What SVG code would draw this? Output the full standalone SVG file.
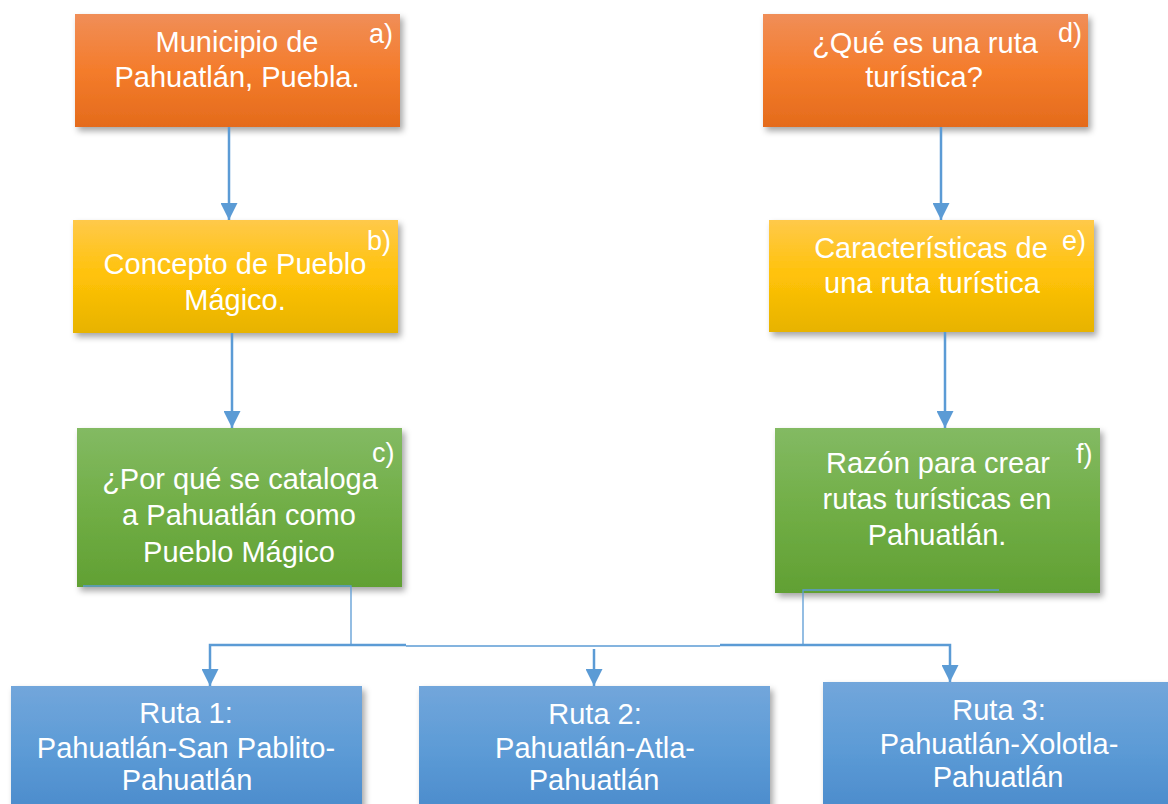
<svg xmlns="http://www.w3.org/2000/svg" width="1168" height="804" viewBox="0 0 1168 804">
<defs>
<linearGradient id="gO" x1="0" y1="0" x2="0" y2="1"><stop offset="0" stop-color="#F08E58"/><stop offset="0.5" stop-color="#F47C2B"/><stop offset="1" stop-color="#E46B1C"/></linearGradient>
<linearGradient id="gY" x1="0" y1="0" x2="0" y2="1"><stop offset="0" stop-color="#FFC94A"/><stop offset="0.5" stop-color="#FFC208"/><stop offset="1" stop-color="#E7B300"/></linearGradient>
<linearGradient id="gG" x1="0" y1="0" x2="0" y2="1"><stop offset="0" stop-color="#83BA63"/><stop offset="0.5" stop-color="#71AE46"/><stop offset="1" stop-color="#61A033"/></linearGradient>
<linearGradient id="gB" x1="0" y1="0" x2="0" y2="1"><stop offset="0" stop-color="#72A6DB"/><stop offset="0.5" stop-color="#5C9BD6"/><stop offset="1" stop-color="#4A8ACB"/></linearGradient>
<filter id="sh" x="-10%" y="-10%" width="125%" height="130%"><feDropShadow dx="3" dy="4" stdDeviation="3" flood-color="#000" flood-opacity="0.35"/></filter>
<marker id="ah" markerUnits="userSpaceOnUse" markerWidth="17" markerHeight="17" refX="17" refY="8.5" orient="auto"><path d="M0,0 L17,8.5 L0,17 z" fill="#5B9BD5"/></marker>
<style>
.box{filter:url(#sh)}
.t{font-family:"Liberation Sans",Arial,sans-serif;font-size:29px;fill:#fff;text-anchor:middle}
.l{font-family:"Liberation Sans",Arial,sans-serif;font-size:27px;fill:#fff}
.c{stroke:#5B9BD5;fill:none;stroke-width:2.5}
.thin{stroke:#5B9BD5;fill:none;stroke-width:1.3}
</style>
</defs>
<g id="node-a"><rect class="box" x="75" y="14" width="325" height="113" fill="url(#gO)"/><text class="t" x="237" y="52">Municipio de</text><text class="t" x="237" y="87">Pahuatlán, Puebla.</text><text class="l" x="369" y="43">a)</text></g>
<g id="node-b"><rect class="box" x="73" y="220" width="325" height="113" fill="url(#gY)"/><text class="t" x="235" y="274">Concepto de Pueblo</text><text class="t" x="235" y="310">Mágico.</text><text class="l" x="367" y="250">b)</text></g>
<g id="node-c"><rect class="box" x="77" y="428" width="325" height="159" fill="url(#gG)"/><text class="t" x="240" y="489">¿Por qué se cataloga</text><text class="t" x="239" y="525">a Pahuatlán como</text><text class="t" x="239" y="562">Pueblo Mágico</text><text class="l" x="372" y="462">c)</text></g>
<g id="node-d"><rect class="box" x="763" y="14" width="325" height="113" fill="url(#gO)"/><text class="t" x="925" y="53">¿Qué es una ruta</text><text class="t" x="924" y="87">turística?</text><text class="l" x="1058" y="42">d)</text></g>
<g id="node-e"><rect class="box" x="769" y="220" width="325" height="112" fill="url(#gY)"/><text class="t" x="931" y="258">Características de</text><text class="t" x="932" y="293">una ruta turística</text><text class="l" x="1062" y="250">e)</text></g>
<g id="node-f"><rect class="box" x="775" y="428" width="325" height="165" fill="url(#gG)"/><text class="t" x="938" y="473">Razón para crear</text><text class="t" x="937" y="509">rutas turísticas en</text><text class="t" x="937" y="545">Pahuatlán.</text><text class="l" x="1076" y="463">f)</text></g>
<g id="node-r1"><rect class="box" x="11" y="686" width="351" height="130" fill="url(#gB)"/><text class="t" x="186" y="723">Ruta 1:</text><text class="t" x="186" y="758">Pahuatlán-San Pablito-</text><text class="t" x="187" y="790">Pahuatlán</text></g>
<g id="node-r2"><rect class="box" x="419" y="686" width="351" height="130" fill="url(#gB)"/><text class="t" x="595" y="724">Ruta 2:</text><text class="t" x="595" y="758">Pahuatlán-Atla-</text><text class="t" x="594" y="790">Pahuatlán</text></g>
<g id="node-r3"><rect class="box" x="823" y="682" width="351" height="134" fill="url(#gB)"/><text class="t" x="999" y="720">Ruta 3:</text><text class="t" x="999" y="754">Pahuatlán-Xolotla-</text><text class="t" x="998" y="787">Pahuatlán</text></g>
<g id="connectors">
<line class="c" x1="229" y1="127" x2="229" y2="220" marker-end="url(#ah)"/>
<line class="c" x1="232" y1="333" x2="232" y2="428" marker-end="url(#ah)"/>
<line class="c" x1="941" y1="127" x2="941" y2="220" marker-end="url(#ah)"/>
<line class="c" x1="945" y1="332" x2="945" y2="428" marker-end="url(#ah)"/>
<polyline class="thin" points="83,586 351,586 351,645"/>
<polyline class="thin" points="999,590 803,590 803,645"/>
<polyline class="c" points="406,645 210,645 210,686" marker-end="url(#ah)"/>
<polyline class="c" points="720,645 950,645 950,682" marker-end="url(#ah)"/>
<line class="thin" x1="406" y1="646" x2="720" y2="646"/>
<line class="c" x1="594" y1="649" x2="594" y2="686" marker-end="url(#ah)"/>
</g>
</svg>
